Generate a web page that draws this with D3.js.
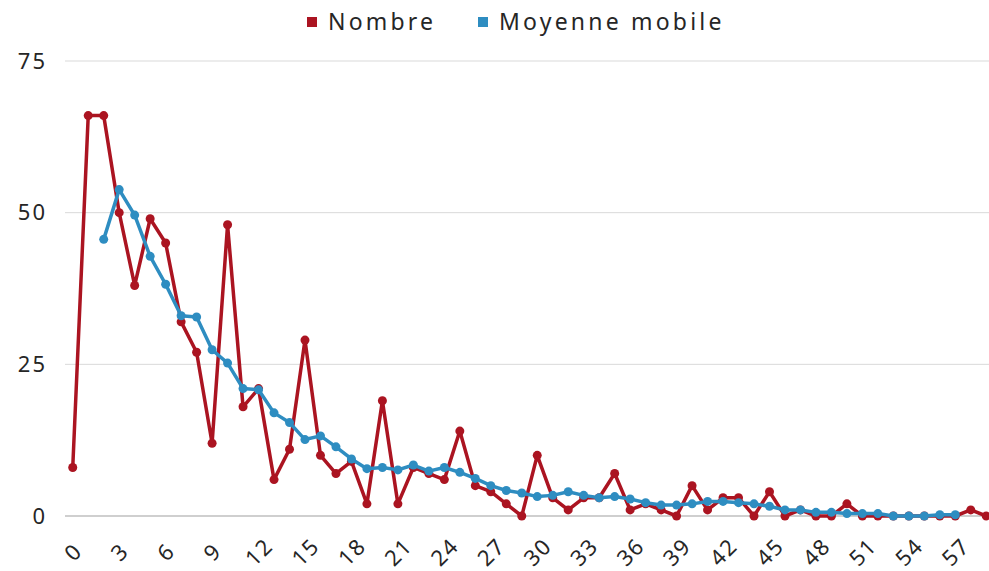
<!DOCTYPE html>
<html>
<head>
<meta charset="utf-8">
<script src="https://cdn.jsdelivr.net/npm/d3@7"></script>
<style>
  body { margin: 0; background: #fff; }
  svg { display: block; font-family: "Noto Sans", sans-serif; }
</style>
</head>
<body>
<svg id="chart" width="989" height="571"></svg>
<script>
const categories = [0,1,2,3,4,5,6,7,8,9,10,11,12,13,14,15,16,17,18,19,20,21,22,23,24,25,26,27,28,29,
  30,31,32,33,34,35,36,37,38,39,40,41,42,43,44,45,46,47,48,49,50,51,52,53,54,55,56,57,58,59];

const nombre = [8,66,66,50,38,49,45,32,27,12, 48,18,21,6,11,29,10,7,9,2,
  19,2,8,7,6,14,5,4,2,0, 10,3,1,3,3,7,1,2,1,0, 5,1,3,3,0,4,0,1,0,0, 2,0,0,0,0,0,0,0,1,0];

const moyenne = [null,null,45.6,53.8,49.6,42.8,38.2,33,32.8,27.4, 25.2,21,20.8,17,15.4,12.6,13.2,11.4,9.4,7.8,
  8,7.6,8.4,7.4,8,7.2,6.2,5,4.2,3.8, 3.2,3.4,4,3.4,3,3.2,2.8,2.2,1.8,1.8,
  2,2.4,2.4,2.2,2,1.6,1,1,0.6,0.6, 0.4,0.4,0.4,0,0,0,0.2,0.2,null,null];

const yTicks = [0, 25, 50, 75];
const xTicks = categories.filter(c => c % 3 === 0);

const seriesNames = ['Nombre', 'Moyenne mobile'];
const colors = ['#ab1421', '#2e8dc1'];

const svg = d3.select('#chart');

const x = d3.scalePoint().domain(categories).range([65, 994]).padding(0.5);
const y = d3.scaleLinear().domain([0, 75]).range([516, 61]);

// gridlines
svg.append('g')
  .selectAll('line')
  .data(yTicks)
  .join('line')
  .attr('x1', 65).attr('x2', 994)
  .attr('y1', d => y(d)).attr('y2', d => y(d))
  .attr('stroke', d => d === 0 ? '#bfbfbf' : '#d9d9d9')
  .attr('stroke-width', d => d === 0 ? 1.5 : 1);

// y axis labels
const yAxis = svg.append('g')
  .attr('transform', 'translate(65,0)')
  .call(d3.axisLeft(y).tickValues(yTicks).tickSize(0).tickPadding(18));
yAxis.select('.domain').remove();
yAxis.selectAll('text')
  .attr('font-size', 22)
  .attr('font-family', '"Noto Sans", sans-serif')
  .attr('letter-spacing', 2)
  .attr('fill', '#262626');

// x axis labels
const xAxis = svg.append('g')
  .attr('transform', 'translate(0,516)')
  .call(d3.axisBottom(x).tickValues(xTicks).tickSize(0));
xAxis.select('.domain').remove();
xAxis.selectAll('text')
  .attr('font-size', 22)
  .attr('font-family', '"Noto Sans", sans-serif')
  .attr('letter-spacing', 1.5)
  .attr('fill', '#262626')
  .attr('y', 0)
  .attr('dy', '0.35em')
  .attr('text-anchor', 'middle')
  .attr('transform', 'translate(0,36) rotate(-45)');

const series = [nombre, moyenne];

series.forEach((vals, k) => {
  const pts = categories.map((c, i) => ({c: c, v: vals[i]})).filter(d => d.v !== null);
  const line = d3.line()
    .x(d => x(d.c))
    .y(d => y(d.v));

  const g = svg.append('g');
  g.append('path')
    .datum(pts)
    .attr('d', line)
    .attr('fill', 'none')
    .attr('stroke', colors[k])
    .attr('stroke-width', 3.5)
    .attr('stroke-linejoin', 'round');

  g.selectAll('circle')
    .data(pts)
    .join('circle')
    .attr('cx', d => x(d.c))
    .attr('cy', d => y(d.v))
    .attr('r', 4.5)
    .attr('fill', colors[k]);
});

// legend
const legend = svg.append('g').attr('transform', 'translate(0,22)');
const legendX = [307, 478];
seriesNames.forEach((name, k) => {
  legend.append('rect')
    .attr('x', legendX[k]).attr('y', -5)
    .attr('width', 10).attr('height', 10)
    .attr('fill', colors[k]);
  legend.append('text')
    .attr('x', legendX[k] + 21).attr('y', 0)
    .attr('dy', '0.35em')
    .attr('font-size', 23)
    .attr('letter-spacing', 3.2)
    .attr('fill', '#262626')
    .text(name);
});
</script>
</body>
</html>
